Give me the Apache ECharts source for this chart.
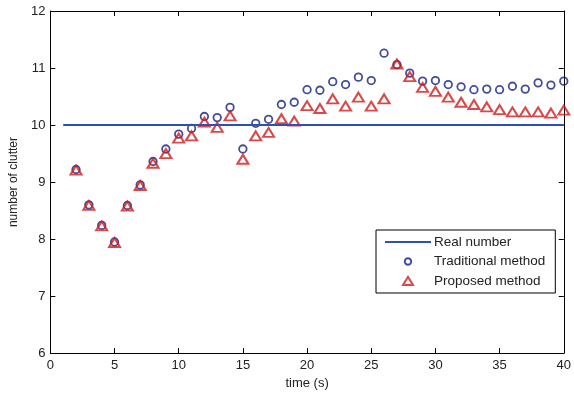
<!DOCTYPE html>
<html>
<head>
<meta charset="utf-8">
<script src="https://cdn.jsdelivr.net/npm/echarts@6/dist/echarts.min.js"></script>
<style>
  html, body {margin: 0; padding: 0; background: #fff;}
  #main {width: 574px; height: 395px;}
</style>
</head>
<body>
<div id="main"></div>
<script>
// time steps (s)
const times = [2, 3, 4, 5, 6, 7, 8, 9, 10, 11, 12, 13, 14, 15, 16, 17, 18, 19, 20, 21,
  22, 23, 24, 25, 26, 27, 28, 29, 30, 31, 32, 33, 34, 35, 36, 37, 38, 39, 40];
const traditional = [9.22, 8.60, 8.24, 7.95, 8.59, 8.95, 9.36, 9.58, 9.84, 9.94,
  10.15, 10.13, 10.31, 9.58, 10.03, 10.10, 10.36, 10.40, 10.62, 10.61,
  10.76, 10.71, 10.84, 10.78, 11.26, 11.06, 10.91, 10.77, 10.78, 10.71,
  10.67, 10.62, 10.63, 10.62, 10.68, 10.63, 10.74, 10.70, 10.77];
const proposed = [9.21, 8.59, 8.23, 7.94, 8.58, 8.94, 9.33, 9.50, 9.77, 9.81,
  10.05, 9.96, 10.16, 9.40, 9.81, 9.87, 10.11, 10.07, 10.34, 10.29,
  10.46, 10.33, 10.49, 10.33, 10.46, 11.07, 10.85, 10.66, 10.59, 10.49,
  10.40, 10.36, 10.32, 10.27, 10.23, 10.23, 10.23, 10.21, 10.26];
const realX = [1, 40];
const realY = [10, 10];
const xTicks = {min: 0, max: 40, step: 5};
const yTicks = {min: 6, max: 12, step: 1};

const font = 'Liberation Sans, Arial, sans-serif';
const pair = (xs, ys) => xs.map((x, i) => [x, ys[i]]);

// legend icons drawn inside a 46x10 box (the leading moves fix the box)
const iconBox = 'path://M0,0M46,10';
const lineIcon = iconBox + 'M0,4L46,4L46,6L0,6Z';
const circleIcon = iconBox + 'M23,1.8A3.2,3.2,0,1,1,22.99,1.8Z';
const triIcon = iconBox + 'M18,9L23,1L28,9Z';

const chart = echarts.init(document.getElementById('main'));

const baseX = {
  type: 'value',
  min: xTicks.min, max: xTicks.max, interval: xTicks.step,
  splitLine: {show: false},
  axisLine: {show: true, onZero: false, lineStyle: {color: '#000', width: 1}},
  axisTick: {show: true, inside: true, length: 5, lineStyle: {color: '#000'}}
};
const baseY = {
  type: 'value',
  min: yTicks.min, max: yTicks.max, interval: yTicks.step,
  splitLine: {show: false},
  axisLine: {show: true, onZero: false, lineStyle: {color: '#000', width: 1}},
  axisTick: {show: true, inside: true, length: 5, lineStyle: {color: '#000'}}
};

chart.setOption({
  animation: false,
  backgroundColor: '#fff',
  textStyle: {fontFamily: font},
  grid: {left: 47, right: 5, top: 11, bottom: 40},
  xAxis: [
    Object.assign({}, baseX, {
      position: 'bottom',
      name: 'time (s)', nameLocation: 'middle', nameGap: 22,
      nameTextStyle: {color: '#222', fontSize: 13, fontFamily: font},
      axisLabel: {color: '#222', fontSize: 13, fontFamily: font, margin: 6}
    }),
    Object.assign({}, baseX, {position: 'top', axisLabel: {show: false}})
  ],
  yAxis: [
    Object.assign({}, baseY, {
      position: 'left',
      name: 'number of clutter', nameLocation: 'middle', nameGap: 26,
      nameRotate: 90,
      nameTextStyle: {color: '#222', fontSize: 12, fontFamily: font},
      axisLabel: {color: '#222', fontSize: 13, fontFamily: font, margin: 5}
    }),
    Object.assign({}, baseY, {position: 'right', axisLabel: {show: false}})
  ],
  legend: {
    orient: 'vertical',
    left: 376, top: 230,
    padding: [5, 10, 5, 8],
    itemGap: 5.5,
    itemWidth: 46, itemHeight: 10,
    symbolKeepAspect: true,
    backgroundColor: '#fff',
    borderColor: '#000', borderWidth: 1,
    textStyle: {color: '#222', fontSize: 13.5, fontFamily: font, padding: [0, 0, 0, -2]},
    data: [
      {name: 'Real number', icon: lineIcon},
      {name: 'Traditional method', icon: circleIcon},
      {name: 'Proposed method', icon: triIcon}
    ]
  },
  series: [
    {
      name: 'Real number',
      type: 'line',
      data: pair(realX, realY),
      symbol: 'none',
      lineStyle: {color: '#2e4fb4', width: 2},
      itemStyle: {color: '#2e4fb4'}
    },
    {
      name: 'Traditional method',
      type: 'scatter',
      data: pair(times, traditional),
      symbol: 'circle',
      symbolSize: 7.5,
      itemStyle: {color: 'rgba(0,0,0,0)', borderColor: '#14207f', borderWidth: 1.8}
    },
    {
      name: 'Proposed method',
      type: 'scatter',
      data: pair(times, proposed),
      symbol: 'triangle',
      symbolSize: [11, 9],
      itemStyle: {color: 'rgba(0,0,0,0)', borderColor: '#d01c1c', borderWidth: 2}
    }
  ]
});
</script>
</body>
</html>
